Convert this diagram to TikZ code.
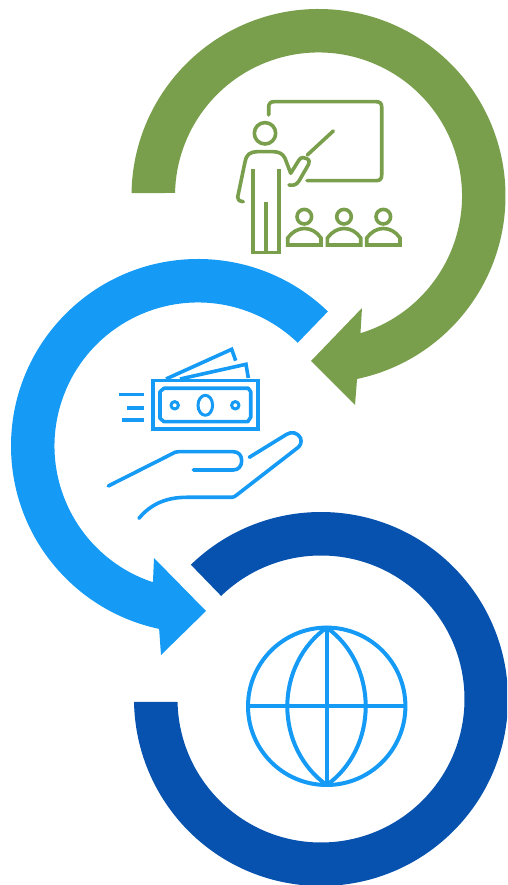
\documentclass[tikz,border=0pt]{standalone}
\definecolor{ringgreen}{HTML}{7A9F4C}
\definecolor{ringblue}{HTML}{159BF5}
\definecolor{ringdark}{HTML}{0652AE}
\tikzset{
  icon/.style={line width=3.6pt,line cap=round,line join=round},
  greenicon/.style={icon,draw=ringgreen},
  blueicon/.style={icon,draw=ringblue},
  globeline/.style={blueicon,line width=4pt},
}
\begin{document}
\begin{tikzpicture}[x=1pt,y=1pt]
\useasboundingbox (0,0) rectangle (507,885);
\clip (0,0) rectangle (507,885);
% green ring (y up)
\coordinate (cg) at (318.5,689);
\fill[ringgreen] ([shift={(179.1:187pt)}]cg) arc[start angle=179.1,end angle=-78.1,radius=187pt]
  -- (355,480) -- (311,524) -- (362,577) -- ([shift={(-73:143.5pt)}]cg)
  arc[start angle=-73,end angle=178.8,radius=143.5pt] -- cycle;
% blue ring
\coordinate (cb) at (198,439);
\fill[ringblue] ([shift={(46:187pt)}]cb) arc[start angle=46,end angle=258,radius=187pt]
  -- (161,230) -- (206,274) -- (154,327) -- ([shift={(251.7:143.5pt)}]cb)
  arc[start angle=251.7,end angle=46,radius=143.5pt] -- cycle;
% dark ring
\coordinate (cd) at (321,186);
\fill[ringdark] ([shift={(134.1:187pt)}]cd) arc[start angle=134.1,end angle=-179.1,radius=187pt]
  -- ([shift={(-178.8:143.5pt)}]cd) arc[start angle=-178.8,end angle=134.1,radius=143.5pt] -- cycle;
\begin{scope}[shift={(0,885)},y=-1pt]
% teacher
\draw[greenicon] (268.7,115) -- (268.7,107) .. controls (268.7,103.5) and (270.5,101.7) .. (274,101.7)
  -- (376,101.7) .. controls (380,101.7) and (381.7,103.5) .. (381.7,107) -- (381.7,175)
  .. controls (381.7,179) and (380,180.7) .. (376,180.7) -- (307,180.7);
\draw[greenicon] (265,133.3) circle[radius=10.7];
\draw[greenicon] (243.3,201.7) .. controls (239,201) and (237.5,200) .. (237.7,197) -- (245,162)
  .. controls (246,155) and (250,151.7) .. (257,151.7) -- (273.3,151.7)
  .. controls (279,151.7) and (283,154) .. (285,158.3) -- (290.7,173.3) -- (299,160)
  .. controls (301,157) and (304,157) .. (306.5,158.5) .. controls (309.5,160) and (310,162) .. (308.5,164.5)
  -- (299,181) .. controls (296,185.5) and (293,185.5) .. (289,185);
\draw[greenicon] (307.3,155) -- (333.3,131);
\draw[greenicon,line cap=butt,line join=miter] (252.7,169.3) -- (252.7,252.7) -- (279,252.7) -- (279,169.3);
\draw[greenicon,line cap=butt] (265.7,201.7) -- (265.7,252.7);
\foreach \dx in {0,39.7,79}{
  \begin{scope}[xshift=\dx]
  \draw[greenicon] (304.3,216.7) circle[radius=7.3];
  \draw[greenicon,line cap=butt,line join=miter] (287.7,245) -- (287.7,238) .. controls (292,232) and (298,228.5) .. (304.3,228.5)
    .. controls (311,228.5) and (317,232) .. (321,238) -- (321,245) -- cycle;
  \end{scope}
}
% money
\draw[blueicon,line join=miter] (152.7,380.7) rectangle (257.7,429.3);
\draw[blueicon] (164,388.3) -- (248.3,388.3) -- (250.7,391.7) -- (250.7,417.3) -- (247.7,421.7)
  -- (164,421.7) -- (160,418.3) -- (160,391.7) -- cycle;
\draw[blueicon,line width=3pt] (205.3,405.3) ellipse[x radius=7.3,y radius=10];
\draw[blueicon,line width=3pt] (174.7,405.3) circle[radius=3.7];
\draw[blueicon,line width=3pt] (235.3,405.3) circle[radius=3.7];
\draw[blueicon,line cap=butt] (119.3,394.7) -- (144,394.7);
\draw[blueicon,line cap=butt] (127.3,408) -- (144,408);
\draw[blueicon,line cap=butt] (122,420) -- (144,420);
\draw[blueicon,line cap=butt,line join=miter] (166,379) -- (231.7,349.3) -- (235.7,360.7);
\draw[blueicon,line cap=butt,line join=miter] (180,379) -- (246,364.3) -- (248.3,378);
% hand
\draw[blueicon] (108.3,486) -- (171.7,454) .. controls (174,452.5) and (176,451.7) .. (178.3,451.7)
  -- (233.3,451.7) .. controls (238.5,451.7) and (241.7,455.5) .. (241.7,460.7)
  .. controls (241.7,466) and (238.5,470) .. (233.3,470) -- (193.3,470);
\draw[blueicon] (249.3,457.3) -- (286.7,434.3) .. controls (292,431) and (298,433) .. (300.5,438)
  .. controls (302,442.5) and (300.5,446) .. (296.7,448.5) -- (236.7,495)
  .. controls (235,496.5) and (233.5,497.3) .. (231.7,497.3) -- (186.7,497.3)
  .. controls (165,497.3) and (150,505) .. (139,518.3);
% globe
\draw[globeline] (326.7,706.3) circle[radius=78.7];
\draw[globeline,line cap=butt] (248,706.3) -- (405.4,706.3);
\draw[globeline,line cap=butt] (326.7,627.6) -- (326.7,785);
\draw[globeline] (326.7,627.6) .. controls (302,645) and (287.3,675) .. (287.3,706.3)
  .. controls (287.3,738) and (302,767.5) .. (326.7,785)
  .. controls (351.4,767.5) and (365.7,738) .. (365.7,706.3)
  .. controls (365.7,675) and (351.4,645) .. (326.7,627.6) -- cycle;
\end{scope}
\end{tikzpicture}
\end{document}
